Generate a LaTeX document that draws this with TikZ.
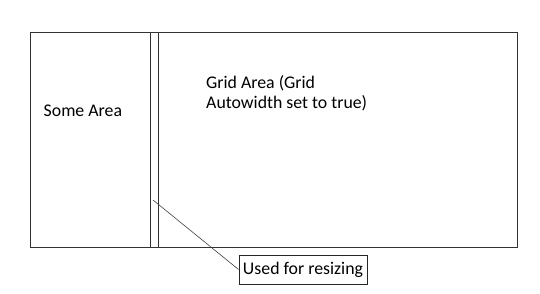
\documentclass[tikz,border=0pt]{standalone}
\usepackage{fontspec}
\setmainfont{Carlito}
\usepackage{tikz}
\usetikzlibrary{positioning}
\tikzset{
  frameline/.style={draw=black!80, line width=0.9pt},
  arealabel/.style={font=\fontsize{17.8}{20}\selectfont, inner sep=0pt, align=left},
  callout/.style={draw=black!85, line width=0.9pt, fill=white, minimum width=128pt, minimum height=29pt, font=\fontsize{17.8}{20}\selectfont},
  leader/.style={draw=black!75, line width=0.6pt}
}

\begin{document}
\begin{tikzpicture}[x=1pt, y=-1pt]
      \useasboundingbox (0,0) rectangle (540,294);
      \draw[frameline] (30,32) rectangle (517,247);
      \draw[frameline] (150,32) -- (150,247);
      \draw[frameline] (158,32) -- (158,247);
      \node[arealabel, anchor=base west] (some) at (43.5,117) {Some Area};
      \node[arealabel, anchor=base west] (grid) at (206,89) {Grid Area (Grid};
      \node[arealabel, anchor=base west] (gridmore) at (206,109) {Autowidth set to true)};
      \node[callout] (resize) at (303,269.5) {Used for resizing};
      \coordinate (grip) at (153,200);
      \draw[leader] (grip) -- (resize.west);
    \end{tikzpicture}
\end{document}
